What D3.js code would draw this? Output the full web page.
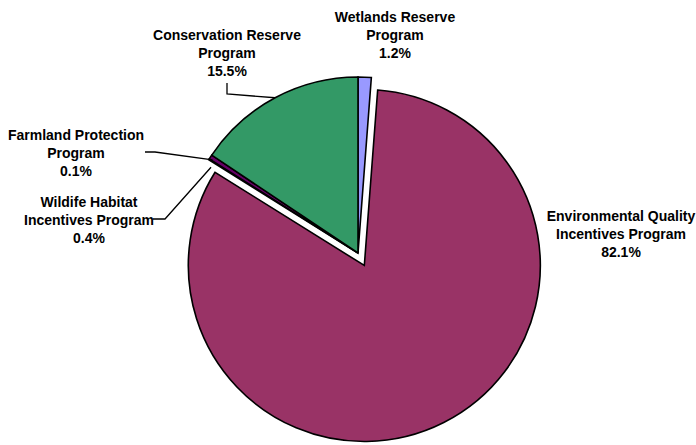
<!DOCTYPE html>
<html>
<head>
<meta charset="utf-8">
<script src="https://cdn.jsdelivr.net/npm/d3@7"></script>
<style>
  html, body { margin: 0; padding: 0; background: #fff; }
  text { font-family: Arial, "Liberation Sans", sans-serif; font-weight: bold; font-size: 14px; fill: #000; }
</style>
</head>
<body>
<svg id="chart" width="696" height="445"></svg>
<script>
// programs, clockwise from 12 o'clock
var programs = ['Wetlands Reserve Program', 'Environmental Quality Incentives Program',
                'Farmland Protection Program', 'Wildife Habitat Incentives Program',
                'Conservation Reserve Program'];
var shares = [1.2, 82.1, 0.1, 0.4, 15.5];
var labelLines = [
  ['Wetlands Reserve', 'Program', '1.2%'],
  ['Environmental Quality', 'Incentives Program', '82.1%'],
  ['Farmland Protection', 'Program', '0.1%'],
  ['Wildife Habitat', 'Incentives Program', '0.4%'],
  ['Conservation Reserve', 'Program', '15.5%']
];
var colors = ['#9999ff', '#993366', '#4a9a9a', '#660066', '#339966'];

var svg = d3.select('#chart'),
    cx = 358, cy = 253, radius = 176,
    explode = {1: 14};  // only EQIP is pulled out

var pie = d3.pie().sort(null).value(d => d.value),
    arc = d3.arc().innerRadius(0).outerRadius(radius),
    data = programs.map((p, i) => ({name: p, value: shares[i], idx: i})),
    arcs = pie(data);

var g = svg.append('g').attr('transform', `translate(${cx},${cy})`);

g.selectAll('path.slice')
  .data(arcs)
  .enter().append('path')
    .classed('slice', true)
    .attr('transform', function (d) {
      var off = explode[d.data.idx] || 0,
          mid = (d.startAngle + d.endAngle) / 2;
      return `translate(${off * Math.sin(mid)},${-off * Math.cos(mid)})`;
    })
    .attr('d', arc)
    .attr('fill', d => colors[d.data.idx])
    .attr('stroke', '#000')
    .attr('stroke-width', 1.6)
    .attr('stroke-linejoin', 'miter');

// text block centre x, first baseline y
var labelPos = [
  [395, 22], [621, 221], [76, 140], [89, 207], [227, 40]
];
var lineGap = 18;

labelLines.forEach(function (lines, i) {
  var [x, y] = labelPos[i];
  var t = svg.append('text').attr('text-anchor', 'middle');
  lines.forEach(function (ln, j) {
    t.append('tspan').attr('x', x).attr('y', y + j * lineGap).text(ln);
  });
});

// leader lines end on the slice's outer edge
function edgePoint(i, frac) {
  var a = arcs[i],
      ang = a.startAngle + (a.endAngle - a.startAngle) * frac;
  return [cx + radius * Math.sin(ang), cy - radius * Math.cos(ang)];
}
var leaders = [
  [[227, 83], [227, 94], edgePoint(4, 0.5)],
  [[145, 152], [155, 152], edgePoint(3, 0.5).map((v, k) => v + (k ? 3 : 2))],
  [[153, 219], [165, 219], edgePoint(2, 0.5).map((v, k) => v + (k ? 8 : 2))]
];
var line = d3.line();
leaders.forEach(function (pts) {
  svg.append('path')
    .attr('d', line(pts))
    .attr('fill', 'none')
    .attr('stroke', '#000')
    .attr('stroke-width', 1.3);
});
</script>
</body>
</html>
